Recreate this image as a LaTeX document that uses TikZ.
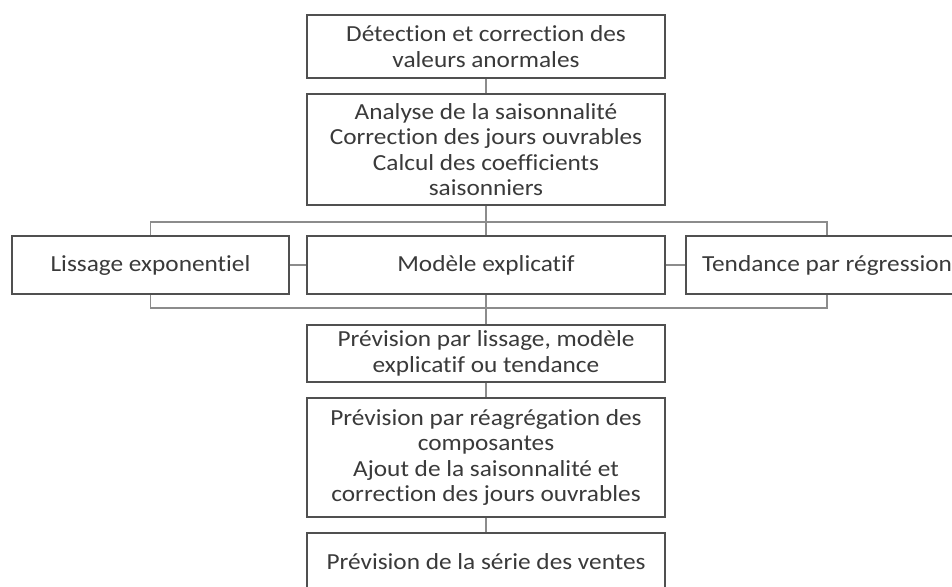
\documentclass[tikz,border=0pt]{standalone}
\usepackage{fontspec}
\setmainfont{Carlito}[Ligatures=NoCommon, FakeStretch=1.1]

\definecolor{boxgray}{HTML}{505050}
\definecolor{linkgray}{HTML}{8C8C8C}
\definecolor{txtgray}{HTML}{3A3A3A}

\tikzset{
  etape/.style={draw=boxgray, line width=1.5pt, fill=white, text=txtgray,
    align=center, inner sep=0pt, font=\fontsize{23}{25.6}\selectfont},
  lien/.style={draw=linkgray, line width=1.3pt},
}

\begin{document}
\begin{tikzpicture}[x=1pt,y=1pt]
  \useasboundingbox (0,0) rectangle (952,-586);
  \clip (0,0) rectangle (952,-586);
  % preparation de la serie
  \node[etape, minimum width=358, minimum height=63] (det) at (486,-46.5)
    {Détection et correction des\\valeurs anormales};
  \node[etape, minimum width=358, minimum height=111] (sais) at (486,-149.5)
    {Analyse de la saisonnalité\\Correction des jours ouvrables\\Calcul des coefficients\\saisonniers};
  % trois methodes
  \node[etape, minimum width=277, minimum height=58] (lis) at (150.5,-265)
    {Lissage exponentiel};
  \node[etape, minimum width=358, minimum height=58] (mod) at (486,-265)
    {Modèle explicatif};
  \node[etape, minimum width=282, minimum height=58] (ten) at (827,-265)
    {Tendance par régression};
  \coordinate (haut) at (486,-222);
  \coordinate (bas) at (486,-308);
  % prevision
  \node[etape, minimum width=358, minimum height=57] (prev) at (486,-353.5)
    {Prévision par lissage, modèle\\explicatif ou tendance};
  \node[etape, minimum width=358, minimum height=119] (reag) at (486,-457.5)
    {Prévision par réagrégation des\\composantes\\Ajout de la saisonnalité et\\correction des jours ouvrables};
  \node[etape, minimum width=358, minimum height=58] (serie) at (486,-562)
    {Prévision de la série des ventes};
  % liens
  \draw[lien] (det) -- (sais);
  \draw[lien] (sais) -- (mod);
  \draw[lien] (lis.north) |- (haut) -| (ten.north);
  \draw[lien] (lis.south) |- (bas) -| (ten.south);
  \draw[lien] (lis) -- (mod);
  \draw[lien] (mod) -- (ten);
  \draw[lien] (mod) -- (prev);
  \draw[lien] (prev) -- (reag);
  \draw[lien] (reag) -- (serie);
\end{tikzpicture}
\end{document}
